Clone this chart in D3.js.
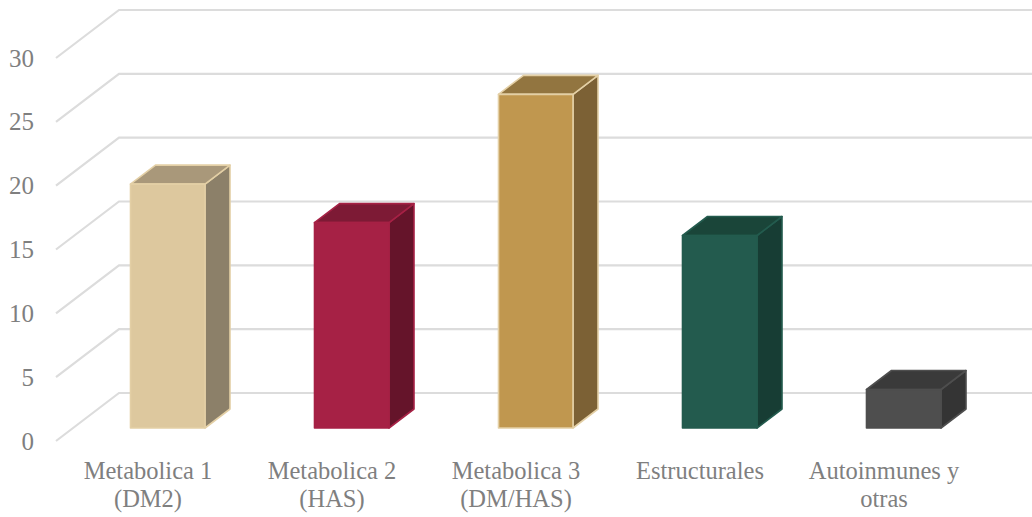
<!DOCTYPE html>
<html lang="es">
  <head>
    <meta charset="utf-8" />
    <title>Comorbilidades</title>
    <script src="https://cdnjs.cloudflare.com/ajax/libs/d3/7.0.0/d3.min.js"></script>
    <style>
      body {
        margin: 0;
        background: #fff;
      }
      text {
        font-family: "Liberation Serif", serif;
        fill: #7f7f7f;
      }
      .grid {
        fill: none;
        stroke: #dcdcdc;
        stroke-width: 2.2px;
      }
    </style>
  </head>
  <body>
    <div id="chart"></div>
    <script>
      const categories = [
        ["Metabolica 1", "(DM2)"],
        ["Metabolica 2", "(HAS)"],
        ["Metabolica 3", "(DM/HAS)"],
        ["Estructurales"],
        ["Autoinmunes y", "otras"],
      ];
      const values = [19, 16, 26, 15, 3];
      const yTicks = [0, 5, 10, 15, 20, 25, 30];
      const frontColors = ["#ddc89e", "#a62145", "#c0974f", "#235b4e", "#4e4e4e"];
      const topColors = ["#a9987a", "#7d1a35", "#927540", "#1a4539", "#3a3a3a"];
      const sideColors = ["#8c8069", "#65142a", "#7c6135", "#173d34", "#343434"];
      const edgeColors = ["#e3cfa5", "#a62145", "#e3cfa5", "#235b4e", "#4e4e4e"];

      const width = 1032;
      const height = 517;

      // oblique offset of the chart floor, front edge to back wall
      const wallDx = 63;
      const wallDy = -48;
      // oblique offset of a bar's depth
      const barDx = 25;
      const barDy = -19;

      const svg = d3
        .select("#chart")
        .append("svg")
        .attr("width", width)
        .attr("height", height);

      const x = d3
        .scaleBand()
        .domain(d3.range(categories.length))
        .range([56, 976]);

      const yFront = d3.scaleLinear().domain([0, 30]).range([441, 58]);
      const yBar = d3.scaleLinear().domain([0, 30]).range([428, 43]);

      // Gridlines: short diagonal on the side wall, then across the back wall
      svg
        .selectAll(".grid")
        .data(yTicks)
        .enter()
        .append("path")
        .attr("class", "grid")
        .attr("d", (d) => {
          const p = d3.path();
          p.moveTo(56, yFront(d));
          p.lineTo(56 + wallDx, yFront(d) + wallDy);
          p.lineTo(width, yFront(d) + wallDy);
          return p.toString();
        });

      // Value axis
      const yAxis = svg
        .append("g")
        .attr("transform", "translate(34,0)")
        .call(d3.axisLeft(yFront).tickValues(yTicks).tickSize(0).tickPadding(0));
      yAxis.select(".domain").remove();
      yAxis
        .selectAll("text")
        .attr("font-size", 25)
        .style("font-family", '"Liberation Serif", serif')
        .style("fill", "#7f7f7f");

      // Bars, each one front, top and side faces
      const barWidth = 74.5;
      const barLeft = (i) => x(i) + 74.5;

      const bars = svg
        .selectAll(".bar")
        .data(values)
        .enter()
        .append("g")
        .attr("class", "bar")
        .attr("stroke-width", 1.6)
        .attr("stroke-linejoin", "round");

      bars
        .append("path")
        .attr("fill", (d, i) => sideColors[i])
        .attr("stroke", (d, i) => edgeColors[i])
        .attr("d", (d, i) => {
          const r = barLeft(i) + barWidth;
          return `M${r},${yBar(d)}L${r + barDx},${yBar(d) + barDy}L${r + barDx},${yBar(0) + barDy}L${r},${yBar(0)}Z`;
        });

      bars
        .append("path")
        .attr("fill", (d, i) => topColors[i])
        .attr("stroke", (d, i) => edgeColors[i])
        .attr("d", (d, i) => {
          const l = barLeft(i);
          const r = l + barWidth;
          return `M${l},${yBar(d)}L${l + barDx},${yBar(d) + barDy}L${r + barDx},${yBar(d) + barDy}L${r},${yBar(d)}Z`;
        });

      bars
        .append("rect")
        .attr("fill", (d, i) => frontColors[i])
        .attr("stroke", (d, i) => edgeColors[i])
        .attr("x", (d, i) => barLeft(i))
        .attr("y", (d) => yBar(d))
        .attr("width", barWidth)
        .attr("height", (d) => yBar(0) - yBar(d));

      // Category labels
      const labels = svg
        .selectAll(".cat")
        .data(categories)
        .enter()
        .append("text")
        .attr("class", "cat")
        .attr("text-anchor", "middle")
        .attr("font-size", 24.5);

      labels
        .selectAll("tspan")
        .data((d, i) => d.map((line) => ({ line, i })))
        .enter()
        .append("tspan")
        .attr("x", (d) => x(d.i) + x.bandwidth() / 2)
        .attr("y", (d, j) => 479 + j * 28)
        .text((d) => d.line);
    </script>
  </body>
</html>
